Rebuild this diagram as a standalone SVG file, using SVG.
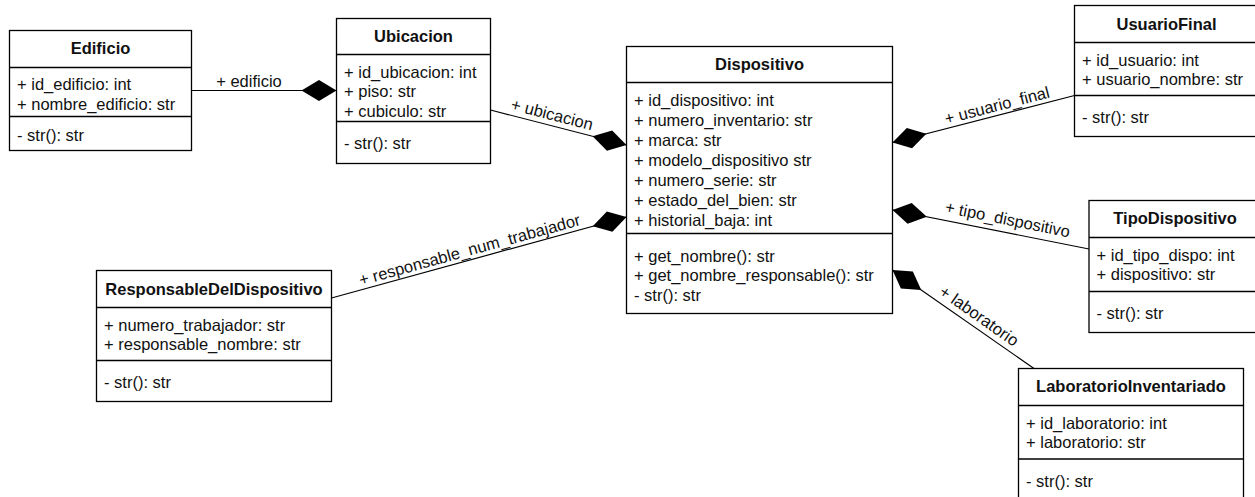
<svg xmlns="http://www.w3.org/2000/svg" width="1255" height="497" viewBox="0 0 1255 497">
  <defs>
    <style>
      .box { fill: #ffffff; stroke: #000000; stroke-width: 1.3; }
      .sep { stroke: #000000; stroke-width: 1.3; }
      .title { font-family: "Liberation Sans", Arial, Helvetica, sans-serif; font-size: 16.5px; font-weight: bold; fill: #111111; text-anchor: middle; }
      .member { font-family: "Liberation Sans", Arial, Helvetica, sans-serif; font-size: 16.5px; fill: #111111; }
      .conn { fill: none; stroke: #000000; stroke-width: 1.2; marker-end: url(#composition); }
      .lbl { font-family: "Liberation Sans", Arial, Helvetica, sans-serif; font-size: 16.5px; fill: #111111; text-anchor: middle; }
    </style>
    <!-- filled diamond for composition ends; tip sits on the path end -->
    <marker id="composition" markerUnits="userSpaceOnUse" markerWidth="38" markerHeight="24" viewBox="-36 -12 38 24" refX="0" refY="0" orient="auto">
      <path d="M0,0 L-17.5,-10.5 L-35,0 L-17.5,10.5 Z" fill="#000000"/>
    </marker>
  </defs>

  <rect width="1255" height="497" fill="#ffffff"/>

  <!-- associations -->
  <g id="connectors">
    <path class="conn" d="M191.5,90.5 L336.5,90.5"/>
    <text class="lbl" x="249" y="86.5">+ edificio</text>

    <path class="conn" d="M490.5,110 L626.5,145"/>
    <text class="lbl" transform="translate(552,114.5) rotate(14.4)" y="5.5">+ ubicacion</text>

    <path class="conn" d="M331.5,298 L626.5,217"/>
    <text class="lbl" transform="translate(469.5,250) rotate(-15.4)" y="5.5">+ responsable_num_trabajador</text>

    <path class="conn" d="M1074.5,95.5 L892.5,142.5"/>
    <text class="lbl" transform="translate(997,105.5) rotate(-14.6)" y="5.5">+ usuario_final</text>

    <path class="conn" d="M1089,249 L892.5,210"/>
    <text class="lbl" transform="translate(1007.5,219.5) rotate(11.4)" y="5.5">+ tipo_dispositivo</text>

    <path class="conn" d="M1034,368.5 L892.5,270"/>
    <text class="lbl" transform="translate(979,316) rotate(34.9)" y="5.5">+ laboratorio</text>
  </g>

  <!-- Edificio -->
  <g id="edificio">
    <rect class="box" x="9.5" y="30.5" width="182" height="120"/>
    <line class="sep" x1="9.5" y1="67.5" x2="191.5" y2="67.5"/>
    <line class="sep" x1="9.5" y1="116.5" x2="191.5" y2="116.5"/>
    <text class="title" x="100.5" y="54">Edificio</text>
    <text class="member" x="17" y="90">+ id_edificio: int</text>
    <text class="member" x="17" y="109.5">+ nombre_edificio: str</text>
    <text class="member" x="17" y="140.5">- str(): str</text>
  </g>

  <!-- Ubicacion -->
  <g id="ubicacion">
    <rect class="box" x="336.5" y="18.5" width="154" height="145"/>
    <line class="sep" x1="336.5" y1="54.5" x2="490.5" y2="54.5"/>
    <line class="sep" x1="336.5" y1="121.5" x2="490.5" y2="121.5"/>
    <text class="title" x="413.5" y="41.5">Ubicacion</text>
    <text class="member" x="344" y="77.5">+ id_ubicacion: int</text>
    <text class="member" x="344" y="97">+ piso: str</text>
    <text class="member" x="344" y="116.5">+ cubiculo: str</text>
    <text class="member" x="344" y="149">- str(): str</text>
  </g>

  <!-- Dispositivo -->
  <g id="dispositivo">
    <rect class="box" x="626.5" y="46.5" width="266" height="267"/>
    <line class="sep" x1="626.5" y1="82.5" x2="892.5" y2="82.5"/>
    <line class="sep" x1="626.5" y1="233.5" x2="892.5" y2="233.5"/>
    <text class="title" x="759.5" y="69.5">Dispositivo</text>
    <text class="member" x="634" y="106">+ id_dispositivo: int</text>
    <text class="member" x="634" y="126">+ numero_inventario: str</text>
    <text class="member" x="634" y="146">+ marca: str</text>
    <text class="member" x="634" y="166">+ modelo_dispositivo str</text>
    <text class="member" x="634" y="186">+ numero_serie: str</text>
    <text class="member" x="634" y="206">+ estado_del_bien: str</text>
    <text class="member" x="634" y="226">+ historial_baja: int</text>
    <text class="member" x="634" y="261.5">+ get_nombre(): str</text>
    <text class="member" x="634" y="281">+ get_nombre_responsable(): str</text>
    <text class="member" x="634" y="300.5">- str(): str</text>
  </g>

  <!-- UsuarioFinal -->
  <g id="usuario-final">
    <rect class="box" x="1074.5" y="5.5" width="184" height="131"/>
    <line class="sep" x1="1074.5" y1="42.5" x2="1258.5" y2="42.5"/>
    <line class="sep" x1="1074.5" y1="95.5" x2="1258.5" y2="95.5"/>
    <text class="title" x="1166.5" y="29.5">UsuarioFinal</text>
    <text class="member" x="1082" y="65.5">+ id_usuario: int</text>
    <text class="member" x="1082" y="85">+ usuario_nombre: str</text>
    <text class="member" x="1082" y="122.5">- str(): str</text>
  </g>

  <!-- TipoDispositivo -->
  <g id="tipo-dispositivo">
    <rect class="box" x="1089" y="200.5" width="172" height="132"/>
    <line class="sep" x1="1089" y1="237.5" x2="1261" y2="237.5"/>
    <line class="sep" x1="1089" y1="291.5" x2="1261" y2="291.5"/>
    <text class="title" x="1175" y="223.5">TipoDispositivo</text>
    <text class="member" x="1096.5" y="260.5">+ id_tipo_dispo: int</text>
    <text class="member" x="1096.5" y="280">+ dispositivo: str</text>
    <text class="member" x="1096.5" y="318.5">- str(): str</text>
  </g>

  <!-- ResponsableDelDispositivo -->
  <g id="responsable">
    <rect class="box" x="96.5" y="270.5" width="235" height="131"/>
    <line class="sep" x1="96.5" y1="307.5" x2="331.5" y2="307.5"/>
    <line class="sep" x1="96.5" y1="360.5" x2="331.5" y2="360.5"/>
    <text class="title" x="214" y="295">ResponsableDelDispositivo</text>
    <text class="member" x="104" y="330.5">+ numero_trabajador: str</text>
    <text class="member" x="104" y="350">+ responsable_nombre: str</text>
    <text class="member" x="104" y="387.5">- str(): str</text>
  </g>

  <!-- LaboratorioInventariado -->
  <g id="laboratorio">
    <rect class="box" x="1018.5" y="368.5" width="225" height="140"/>
    <line class="sep" x1="1018.5" y1="405.5" x2="1243.5" y2="405.5"/>
    <line class="sep" x1="1018.5" y1="459" x2="1243.5" y2="459"/>
    <text class="title" x="1131" y="392">LaboratorioInventariado</text>
    <text class="member" x="1026" y="428.5">+ id_laboratorio: int</text>
    <text class="member" x="1026" y="448">+ laboratorio: str</text>
    <text class="member" x="1026" y="486.5">- str(): str</text>
  </g>
</svg>
